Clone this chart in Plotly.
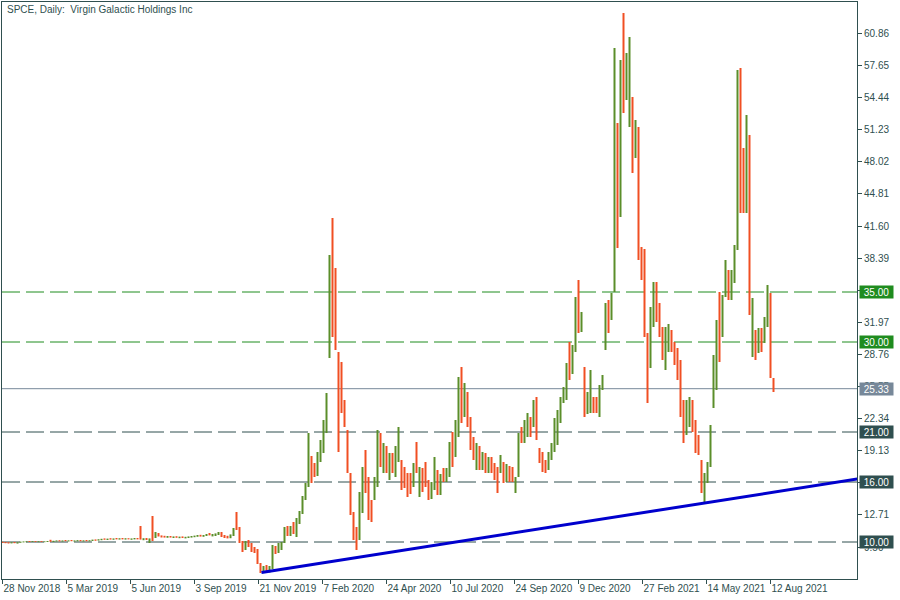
import plotly.graph_objects as go

# ---- data (3 trading-day steps) ----
open_ = [9.98,9.95,9.92,9.90,9.95,9.92,9.96,10.00,10.03,10.05,10.04,10.06,10.03,10.05,10.02,10.04,10.08,10.05,10.10,10.12,
         10.10,10.14,10.11,10.15,10.10,10.13,10.16,10.10,10.14,10.12,10.16,10.20,10.18,10.24,10.28,10.26,10.30,10.28,10.32,10.30,
         10.34,10.30,10.32,10.28,10.32,10.34,10.40,10.30,10.34,10.28,10.40,10.40,10.80,10.60,10.55,10.50,10.55,10.48,10.52,10.46,
         10.50,10.44,10.48,10.52,10.56,10.60,10.66,10.58,10.66,10.76,10.70,10.74,10.80,10.90,10.60,10.50,10.44,10.70,12.20,11.40,
         10.00,9.30,9.90,9.70,9.20,9.00,7.80,7.20,7.40,7.10,7.40,9.20,9.00,9.50,10.00,11.20,10.80,11.40,11.20,12.10,
         12.90,14.30,16.00,18.40,17.60,16.80,18.60,19.80,21.80,28.60,38.00,35.00,28.60,27.50,24.00,21.20,16.90,13.00,11.50,10.40,
         13.00,19.00,16.40,14.00,14.20,15.50,20.50,18.00,19.40,16.40,18.60,16.60,19.00,18.20,16.80,16.60,15.40,15.50,17.50,15.00,
         17.00,17.60,16.00,14.60,15.60,17.20,15.00,16.40,16.20,16.60,21.00,18.50,21.00,26.00,23.00,24.50,22.50,20.50,18.60,19.40,
         17.60,18.60,17.20,18.20,17.60,17.50,16.90,18.00,16.40,17.40,17.20,15.00,16.50,21.40,20.20,21.00,22.40,21.50,24.20,19.40,
         18.20,17.80,17.20,18.40,19.20,20.00,22.50,24.00,25.50,29.90,27.20,29.50,36.00,31.00,27.50,23.50,23.00,24.50,23.60,22.60,
         25.20,29.40,34.20,32.20,35.20,51.90,43.50,62.00,54.20,52.00,54.50,48.40,51.50,39.50,35.50,30.90,28.00,32.00,35.60,33.90,
         31.20,27.60,29.20,31.00,29.80,29.40,28.20,24.00,20.70,23.00,24.00,22.20,20.50,18.20,14.20,15.90,17.50,23.50,28.20,35.00,
         30.50,34.70,37.00,34.20,36.00,39.50,57.00,49.40,43.00,50.70,31.50,31.20,29.20,31.20,30.00,32.00,34.90,26.40]
high = [10.02,10.00,9.98,9.98,10.00,9.98,10.04,10.06,10.08,10.10,10.09,10.10,10.08,10.09,10.07,10.10,10.22,10.12,10.16,10.18,
        10.16,10.20,10.17,10.20,10.16,10.19,10.20,10.17,10.20,10.18,10.24,10.26,10.28,10.32,10.36,10.34,10.38,10.36,10.40,10.38,
        10.40,10.38,10.38,10.36,10.40,10.40,11.60,10.38,10.40,10.36,12.60,11.00,10.90,10.66,10.62,10.60,10.60,10.56,10.58,10.54,
        10.56,10.52,10.56,10.60,10.64,10.70,10.72,10.70,10.80,10.90,10.80,10.86,11.00,11.00,10.70,10.62,10.76,11.40,13.00,11.50,
        10.10,10.10,10.20,9.90,9.50,9.30,7.90,7.60,7.70,7.60,9.70,9.60,9.90,10.00,11.50,11.60,11.60,12.00,12.40,13.10,
        14.60,15.90,20.90,18.60,17.90,19.00,20.20,22.20,24.90,38.70,42.40,37.40,29.00,28.00,24.20,21.20,16.90,13.00,11.50,15.00,
        17.50,19.20,16.50,14.20,16.50,21.20,20.90,19.90,19.60,18.90,18.90,19.60,21.50,18.20,17.50,16.90,16.90,17.90,20.00,17.50,
        17.40,18.00,16.20,16.00,18.50,17.20,16.80,17.40,17.40,20.00,21.00,22.20,26.50,27.50,25.90,25.00,22.50,20.50,19.90,19.60,
        19.00,18.90,18.50,18.50,17.90,17.50,18.70,18.00,17.80,17.60,17.50,16.50,20.90,21.50,22.20,22.90,22.50,24.20,24.50,19.40,
        19.00,18.20,19.00,19.90,22.40,23.20,24.50,25.50,27.90,30.00,29.70,34.50,36.20,33.00,27.50,25.00,27.20,24.50,24.50,25.70,
        26.70,33.90,34.20,34.90,59.40,51.90,58.20,62.90,58.90,60.50,54.50,52.20,51.50,39.50,39.30,30.90,33.50,36.00,36.00,33.90,
        31.50,31.50,31.80,31.20,30.00,29.40,28.20,24.20,24.20,24.50,24.20,22.20,20.70,18.20,16.90,18.00,21.70,28.70,32.20,35.00,
        34.70,38.20,37.20,37.20,39.70,57.20,57.40,49.40,52.70,50.70,34.40,31.20,31.40,31.40,32.50,35.70,34.90,26.40]
low = [9.90,9.88,9.85,9.86,9.88,9.84,9.92,9.96,9.98,10.00,10.00,10.01,9.99,10.00,9.98,10.00,10.02,10.00,10.05,10.06,
       10.04,10.08,10.05,10.08,10.04,10.07,10.08,10.05,10.08,10.06,10.10,10.12,10.14,10.18,10.22,10.20,10.24,10.22,10.26,10.24,
       10.26,10.24,10.26,10.22,10.26,10.26,10.24,10.18,10.20,9.90,10.10,10.40,10.55,10.45,10.44,10.42,10.44,10.40,10.42,10.38,
       10.40,10.36,10.40,10.44,10.48,10.52,10.54,10.52,10.60,10.66,10.56,10.60,10.70,10.50,10.40,10.36,10.38,10.60,11.20,9.90,
       9.00,9.20,9.50,9.00,8.90,7.80,6.90,6.95,7.00,6.95,7.30,8.80,8.90,9.20,9.90,10.60,10.60,10.80,10.50,11.80,
       12.80,14.20,15.50,15.90,16.50,16.60,18.00,18.90,20.90,28.40,30.50,29.20,19.00,22.90,21.50,16.90,12.70,10.20,9.20,10.20,
       12.90,14.90,12.20,12.00,14.20,15.50,17.50,16.90,16.90,16.20,16.90,16.50,18.00,15.20,15.40,14.50,14.80,15.50,16.90,14.50,
       15.00,15.50,14.20,14.30,15.20,14.70,14.70,16.00,16.00,16.50,17.50,18.50,20.50,21.90,22.50,21.50,19.20,18.20,17.20,17.20,
       17.20,16.90,16.90,16.90,16.20,14.90,16.90,15.90,16.00,16.00,16.00,14.90,16.50,19.90,19.90,20.50,20.50,21.50,20.20,17.90,
       17.00,16.90,17.20,18.20,19.00,19.70,21.90,23.90,24.20,26.20,26.80,29.00,30.90,31.00,22.50,22.80,22.90,22.90,22.90,22.50,
       25.20,29.20,30.90,32.20,35.00,39.40,42.50,52.90,54.20,51.50,46.90,48.40,38.20,36.20,30.50,23.90,27.40,31.50,32.00,30.50,
       28.20,27.20,29.00,29.00,27.70,26.20,22.50,19.90,20.70,21.50,21.00,18.90,18.70,14.90,14.00,15.90,17.50,23.40,25.20,28.00,
       30.50,34.50,34.20,34.20,35.90,39.20,42.90,42.90,42.90,32.70,28.50,28.20,28.90,29.00,29.90,31.50,26.40,25.00]
close = [9.95,9.92,9.90,9.95,9.92,9.96,10.00,10.03,10.05,10.04,10.06,10.03,10.05,10.02,10.04,10.08,10.05,10.10,10.12,10.10,
         10.14,10.11,10.15,10.10,10.13,10.16,10.10,10.14,10.12,10.16,10.20,10.18,10.24,10.28,10.26,10.30,10.28,10.32,10.30,10.34,
         10.30,10.32,10.28,10.32,10.34,10.30,10.30,10.34,10.28,10.30,10.30,10.90,10.60,10.55,10.50,10.55,10.48,10.52,10.46,10.50,
         10.44,10.48,10.52,10.56,10.60,10.66,10.58,10.66,10.76,10.70,10.74,10.80,10.90,10.60,10.50,10.44,10.70,11.20,11.50,10.00,
         9.20,9.90,9.70,9.20,9.00,8.00,7.20,7.40,7.10,7.40,9.20,9.00,9.50,9.80,11.20,10.80,11.40,11.20,12.10,12.90,
         14.30,15.40,18.00,16.40,16.80,18.60,19.80,21.80,24.50,37.80,33.00,30.00,24.00,24.00,22.00,17.90,13.50,11.00,10.00,14.80,
         17.00,15.50,13.00,12.40,16.20,20.00,18.00,19.40,17.40,18.40,17.20,19.20,20.50,16.00,15.80,15.00,15.20,17.50,17.20,17.00,
         15.40,16.00,14.60,15.60,17.80,15.00,16.40,16.20,17.00,19.60,18.00,22.00,26.00,23.00,25.00,22.00,19.80,18.60,19.40,17.60,
         18.60,17.20,18.20,17.20,16.50,15.50,18.40,16.40,17.40,16.20,16.40,16.20,20.50,20.40,21.80,22.60,21.00,23.80,21.00,18.20,
         17.40,17.20,18.80,19.60,22.00,23.00,24.20,25.20,27.50,27.00,29.20,34.00,32.00,32.80,23.00,24.50,26.80,23.20,23.00,25.40,
         26.50,33.50,31.50,34.60,55.00,42.00,57.50,54.50,57.00,59.50,48.00,51.50,42.90,37.00,31.00,28.00,33.00,35.00,33.00,31.00,
         28.60,31.00,31.20,29.40,28.60,26.60,23.00,20.50,23.80,24.00,21.50,19.50,19.00,15.50,16.50,17.60,21.20,28.00,31.80,31.00,
         34.40,37.80,34.80,36.80,39.40,53.00,44.00,44.00,51.50,34.00,33.50,29.00,31.00,29.50,32.20,35.40,27.00,25.33]

bar_step = 3
bars = list(range(0, bar_step * len(close), bar_step))

date_ticks = [0, 64, 128, 192, 256, 320, 384, 448, 512, 576, 640, 704, 768]
date_labels = ["28 Nov 2018", "5 Mar 2019", "5 Jun 2019", "3 Sep 2019", "21 Nov 2019", "7 Feb 2020",
               "24 Apr 2020", "10 Jul 2020", "24 Sep 2020", "9 Dec 2020", "27 Feb 2021", "14 May 2021",
               "12 Aug 2021"]
price_ticks = [60.86, 57.65, 54.44, 51.23, 48.02, 44.81, 41.60, 38.39, 35.18, 31.97, 28.76,
               25.55, 22.34, 19.13, 15.92, 12.71, 9.50]

levels = [35.00, 30.00, 21.00, 16.00, 10.00]
level_colors = ["#1f8c1f", "#1f8c1f", "#2f4f4f", "#2f4f4f", "#2f4f4f"]
last_price = 25.33
trend_bars = [259, 855]
trend_prices = [6.95, 16.30]

GREEN = "#5b8e2a"
RED = "#f04f23"
AXIS = "#2f4f4f"
FONT = "Liberation Sans"

fig = go.Figure()
fig.add_trace(go.Ohlc(
    x=bars, open=open_, high=high, low=low, close=close,
    increasing=dict(line=dict(color=GREEN, width=2)),
    decreasing=dict(line=dict(color=RED, width=2)),
    tickwidth=0, hoverinfo="skip", showlegend=False,
))
fig.add_trace(go.Scatter(
    x=trend_bars, y=trend_prices, mode="lines",
    line=dict(color="#0000cd", width=3), hoverinfo="skip", showlegend=False,
))

shapes = []
annotations = []
for v, c in zip(levels, level_colors):
    shapes.append(dict(type="line", xref="paper", x0=0, x1=1, yref="y", y0=v, y1=v,
                       line=dict(color=c, width=1, dash="18px,6px"), layer="below"))
    annotations.append(dict(text=f"{v:.2f}", xref="paper", x=1, xanchor="left", xshift=2,
                            yref="y", y=v, yanchor="middle", showarrow=False,
                            bgcolor=c, borderpad=0, width=33, height=12,
                            font=dict(family=FONT, size=10, color="white")))
shapes.append(dict(type="line", xref="paper", x0=0, x1=1, yref="y", y0=last_price, y1=last_price,
                   line=dict(color="#778899", width=1), layer="below"))
annotations.append(dict(text=f"{last_price:.2f}", xref="paper", x=1, xanchor="left", xshift=2,
                        yref="y", y=last_price, yanchor="middle", showarrow=False,
                        bgcolor="#778899", borderpad=0, width=33, height=12,
                        font=dict(family=FONT, size=10, color="white")))
annotations.append(dict(text="SPCE, Daily:\u00a0 Virgin Galactic Holdings Inc", xref="paper", x=0,
                        xanchor="left", xshift=3, yref="paper", y=1, yanchor="top", yshift=0,
                        showarrow=False, font=dict(family=FONT, size=10, color=AXIS)))

fig.update_layout(
    width=900, height=600,
    margin=dict(l=2, r=43, t=2, b=21, autoexpand=False),
    paper_bgcolor="white", plot_bgcolor="white",
    shapes=shapes, annotations=annotations,
    xaxis=dict(range=[-0.5, 854.5], rangeslider=dict(visible=False), showgrid=False, zeroline=False,
               showline=True, linecolor=AXIS, linewidth=1, mirror=True, automargin=False,
               tickmode="array", tickvals=date_ticks, ticktext=date_labels, tickangle=0,
               ticks="outside", ticklen=4, tickcolor=AXIS, ticklabelposition="outside right",
               tickfont=dict(family=FONT, size=10, color=AXIS)),
    yaxis=dict(range=[6.3, 64.0], side="right", showgrid=False, zeroline=False,
               showline=True, linecolor=AXIS, linewidth=1, mirror=True, automargin=False,
               tickmode="array", tickvals=price_ticks, ticktext=[f"{t:.2f}" for t in price_ticks],
               ticks="outside", ticklen=4, tickcolor=AXIS,
               tickfont=dict(family=FONT, size=10, color=AXIS)),
)

fig.write_html("out.html", config={"displayModeBar": False},
               post_script="document.body.style.margin='0';")
